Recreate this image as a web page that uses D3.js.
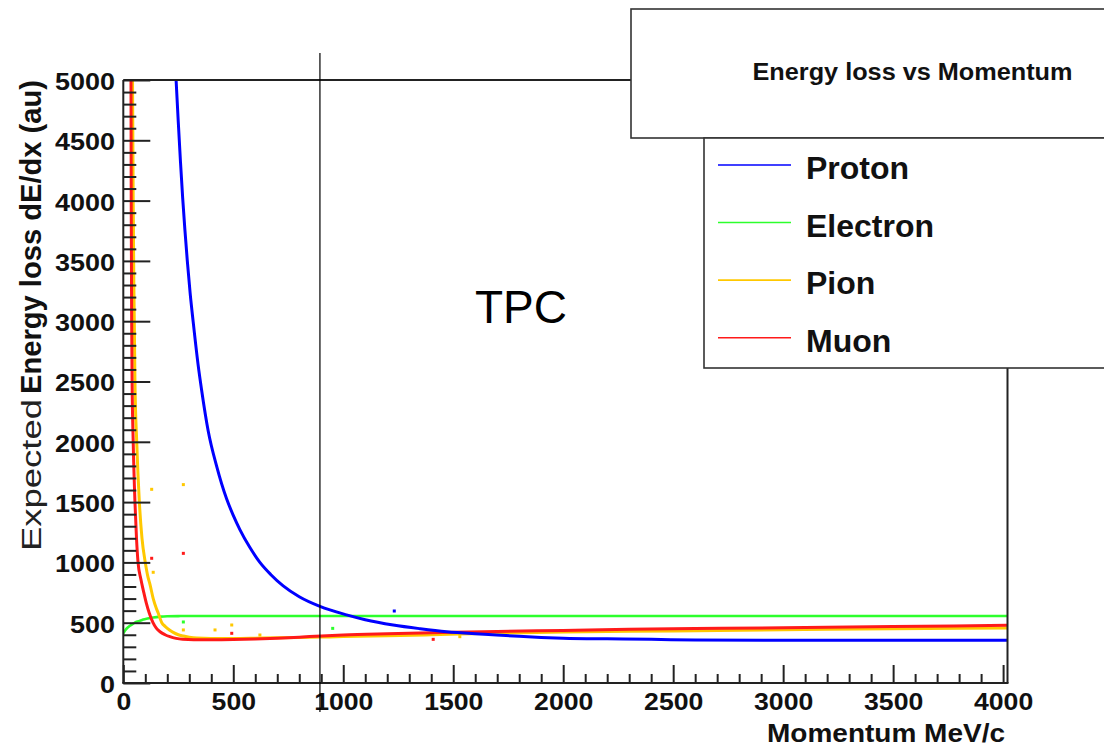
<!DOCTYPE html>
<html>
<head>
<meta charset="utf-8">
<script src="https://cdn.jsdelivr.net/npm/d3@7"></script>
<style>
  html, body { margin: 0; padding: 0; background: #fff; }
  svg { display: block; font-family: "Liberation Sans", Arial, Helvetica, sans-serif; }
</style>
</head>
<body>
<svg id="chart" width="1104" height="746"></svg>
<script>
// Expected TPC energy loss (dE/dx, arbitrary units) against momentum (MeV/c)
// for four particle species. Each curve is a list of [momentum, dE/dx] pairs.
const protonCurve = [
  [240, 5000], [250, 4650], [260, 4320], [270, 4020], [280, 3760], [291, 3500],
  [304, 3230], [318, 2990], [340, 2640], [356, 2430], [386, 2090], [424, 1800],
  [470, 1525], [500, 1390], [530, 1272], [575, 1125], [621, 1000], [670, 900],
  [727, 805], [800, 715], [894, 635], [1015, 565], [1100, 525], [1227, 481],
  [1350, 450], [1470, 425], [1600, 408], [1697, 398], [1800, 387], [1900, 378],
  [2000, 372], [2200, 366], [2400, 362], [2600, 357], [3000, 355], [3500, 354],
  [4020, 354]
];
const electronCurve = [
  [0, 412], [10, 440], [20, 460], [30, 475], [45, 492], [61, 508], [76, 516],
  [91, 526], [110, 534], [136, 543], [170, 550], [200, 553], [260, 555],
  [350, 556], [600, 556], [1000, 556], [2000, 556], [3000, 556], [4020, 556]
];
const pionCurve = [
  [42, 5000], [45, 4000], [48, 3300], [50, 3000], [53, 2500], [61, 2000],
  [73, 1500], [85, 1200], [100, 1000], [112, 880], [121, 820], [136, 700],
  [150, 620], [159, 578], [175, 500], [190, 470], [210, 440], [227, 420],
  [250, 400], [273, 390], [300, 380], [334, 373], [400, 370], [500, 370],
  [600, 372], [700, 375], [800, 378], [900, 381], [1000, 385], [1200, 392],
  [1400, 400], [1700, 413], [2000, 422], [2500, 432], [3000, 442], [3500, 450],
  [4020, 456]
];
const muonCurve = [
  [35, 5000], [36, 4000], [38, 3000], [40, 2500], [45, 2000], [53, 1500],
  [60, 1200], [67, 1000], [80, 860], [92, 760], [105, 660], [118, 580],
  [135, 500], [150, 455], [167, 425], [190, 400], [212, 384], [240, 370],
  [270, 362], [320, 358], [400, 358], [500, 360], [600, 365], [700, 372],
  [800, 380], [900, 390], [1000, 398], [1200, 408], [1400, 416], [1700, 428],
  [2000, 436], [2300, 445], [2600, 452], [3000, 458], [3500, 468], [4020, 478]
];

// Isolated entries that sit off the main bands
const protonStray = [[1232, 597]];
const electronStray = [[273, 506], [952, 453]];
const pionStray = [[129, 1606], [273, 1645], [136, 918], [273, 440], [417, 440], [493, 481], [621, 398], [1530, 384]];
const muonStray = [[129, 1034], [273, 1075], [493, 412], [1409, 362]];

const seriesNames = ["Proton", "Electron", "Pion", "Muon"];
const seriesColors = ["#0000ff", "#2cff2c", "#ffc800", "#ff1a1a"];

const xTicksMajor = [0, 500, 1000, 1500, 2000, 2500, 3000, 3500, 4000];
const yTicksMajor = [0, 500, 1000, 1500, 2000, 2500, 3000, 3500, 4000, 4500, 5000];
const detectorBoundary = 894;   // momentum at which the TPC region line is drawn

const titleText = "Energy loss vs Momentum";
const xTitle = "Momentum MeV/c";
const yTitleLight = "Expected";
const yTitleBold = "Energy loss dE/dx (au)";
const regionLabel = "TPC";

// ---- layout ----
const plot = { left: 123.3, right: 1007.5, top: 80, bottom: 683 };
const svg = d3.select("#chart");

const x = d3.scaleLinear().domain([0, 4020]).range([plot.left, plot.right]);
const y = d3.scaleLinear().domain([0, 5000]).range([plot.bottom, plot.top]);

const axisColor = "#222";

// clip for curves
svg.append("defs").append("clipPath").attr("id", "plotClip")
  .append("rect")
  .attr("x", plot.left).attr("y", plot.top)
  .attr("width", plot.right - plot.left).attr("height", plot.bottom - plot.top);

// ---- curves ----
const line = d3.line().x(d => x(d[0])).y(d => y(d[1])).curve(d3.curveMonotoneX);
const curveLayer = svg.append("g").attr("clip-path", "url(#plotClip)");

const drawOrder = [
  { data: electronCurve, stray: electronStray, color: seriesColors[1], w: 2.6 },
  { data: pionCurve, stray: pionStray, color: seriesColors[2], w: 3 },
  { data: muonCurve, stray: muonStray, color: seriesColors[3], w: 3 },
  { data: protonCurve, stray: protonStray, color: seriesColors[0], w: 3 }
];
drawOrder.forEach(s => {
  curveLayer.append("path")
    .datum(s.data)
    .attr("d", line)
    .attr("fill", "none")
    .attr("stroke", s.color)
    .attr("stroke-width", s.w)
    .attr("stroke-linejoin", "round");
  curveLayer.selectAll(null).data(s.stray).enter().append("rect")
    .attr("x", d => x(d[0]) - 1.5)
    .attr("y", d => y(d[1]) - 1.5)
    .attr("width", 3).attr("height", 3)
    .attr("fill", s.color);
});

// ---- axes ----
const minorX = d3.range(0, 4001, 100).filter(v => v % 500 !== 0);
const minorY = d3.range(0, 5001, 100).filter(v => v % 500 !== 0);

function styleAxis(g) {
  g.select(".domain").remove();
  g.selectAll(".tick line").attr("stroke", axisColor).attr("stroke-width", 2);
}

// x minor
svg.append("g")
  .attr("transform", `translate(0,${plot.bottom})`)
  .call(d3.axisBottom(x).tickValues(minorX).tickSize(-9).tickSizeOuter(0).tickFormat(""))
  .call(styleAxis);
// x major
const xAxisG = svg.append("g")
  .attr("transform", `translate(0,${plot.bottom})`)
  .call(d3.axisBottom(x).tickValues(xTicksMajor).tickSize(-18).tickSizeOuter(0).tickFormat(d3.format("d")))
  .call(styleAxis);
xAxisG.selectAll(".tick text")
  .attr("y", 27).attr("dy", null)
  .attr("fill", "#111")
  .attr("font-size", 23.5).attr("font-weight", "bold")
  .attr("font-family", "'Liberation Sans', Arial, sans-serif")
  .attr("textLength", function () { return 14.8 * this.textContent.length; })
  .attr("lengthAdjust", "spacingAndGlyphs");

// y minor
svg.append("g")
  .attr("transform", `translate(${plot.left},0)`)
  .call(d3.axisLeft(y).tickValues(minorY).tickSize(-13).tickSizeOuter(0).tickFormat(""))
  .call(styleAxis);
// y major
const yAxisG = svg.append("g")
  .attr("transform", `translate(${plot.left},0)`)
  .call(d3.axisLeft(y).tickValues(yTicksMajor).tickSize(-27).tickPadding(8.3).tickSizeOuter(0).tickFormat(d3.format("d")))
  .call(styleAxis);
yAxisG.selectAll(".tick text")
  .attr("dy", "0.4em")
  .attr("fill", "#111")
  .attr("font-size", 23.5).attr("font-weight", "bold")
  .attr("font-family", "'Liberation Sans', Arial, sans-serif")
  .attr("textLength", function () { return 15 * this.textContent.length; })
  .attr("lengthAdjust", "spacingAndGlyphs");

// frame
const frame = svg.append("g").attr("stroke", axisColor).attr("stroke-width", 2).attr("fill", "none");
frame.append("line").attr("x1", plot.left).attr("x2", plot.left).attr("y1", plot.top).attr("y2", plot.bottom);
frame.append("line").attr("x1", plot.left - 1).attr("x2", plot.right + 1).attr("y1", plot.bottom).attr("y2", plot.bottom);
frame.append("line").attr("x1", plot.left).attr("x2", plot.right).attr("y1", plot.top).attr("y2", plot.top);
frame.append("line").attr("x1", plot.right).attr("x2", plot.right).attr("y1", plot.top).attr("y2", plot.bottom);

// TPC boundary line
svg.append("line")
  .attr("x1", x(detectorBoundary)).attr("x2", x(detectorBoundary))
  .attr("y1", 53).attr("y2", 712)
  .attr("stroke", "#000").attr("stroke-width", 1.2);

// ---- axis titles ----
svg.append("text")
  .attr("x", 1005).attr("y", 741.5)
  .attr("text-anchor", "end")
  .attr("font-size", 25.6).attr("font-weight", "bold").attr("fill", "#111")
  .attr("textLength", 238).attr("lengthAdjust", "spacingAndGlyphs")
  .text(xTitle);

const yTitle = svg.append("g").attr("transform", "translate(41,0) rotate(-90)");
yTitle.append("text")
  .attr("x", -551).attr("y", 0)
  .attr("font-size", 27).attr("fill", "#222")
  .attr("textLength", 152).attr("lengthAdjust", "spacingAndGlyphs")
  .text(yTitleLight);
yTitle.append("text")
  .attr("x", -394).attr("y", 0)
  .attr("font-size", 29).attr("font-weight", "bold").attr("fill", "#111")
  .attr("textLength", 314).attr("lengthAdjust", "spacingAndGlyphs")
  .text(yTitleBold);

// region label
svg.append("text")
  .attr("x", 475).attr("y", 323)
  .attr("font-size", 46).attr("fill", "#000")
  .text(regionLabel);

// ---- title box ----
svg.append("rect")
  .attr("x", 631).attr("y", 9).attr("width", 520).attr("height", 129)
  .attr("fill", "#fff").attr("stroke", "#333").attr("stroke-width", 1.6);
svg.append("text")
  .attr("x", 912.5).attr("y", 80)
  .attr("text-anchor", "middle")
  .attr("font-size", 24.7).attr("font-weight", "bold").attr("fill", "#111")
  .attr("textLength", 320).attr("lengthAdjust", "spacingAndGlyphs")
  .text(titleText);

// ---- legend ----
svg.append("rect")
  .attr("x", 704).attr("y", 138).attr("width", 450).attr("height", 230)
  .attr("fill", "#fff").attr("stroke", "#333").attr("stroke-width", 1.6);
const legendRowY = d3.scalePoint().domain(seriesNames).range([165, 337.7]);
const legend = svg.append("g");
seriesNames.forEach((name, i) => {
  const cy = legendRowY(name);
  legend.append("line")
    .attr("x1", 718).attr("x2", 791).attr("y1", cy).attr("y2", cy)
    .attr("stroke", seriesColors[i]).attr("stroke-width", 1.6);
  legend.append("text")
    .attr("x", 806).attr("y", cy + 14)
    .attr("font-size", 32).attr("font-weight", "bold").attr("fill", "#111")
    .text(name);
});
</script>
</body>
</html>
